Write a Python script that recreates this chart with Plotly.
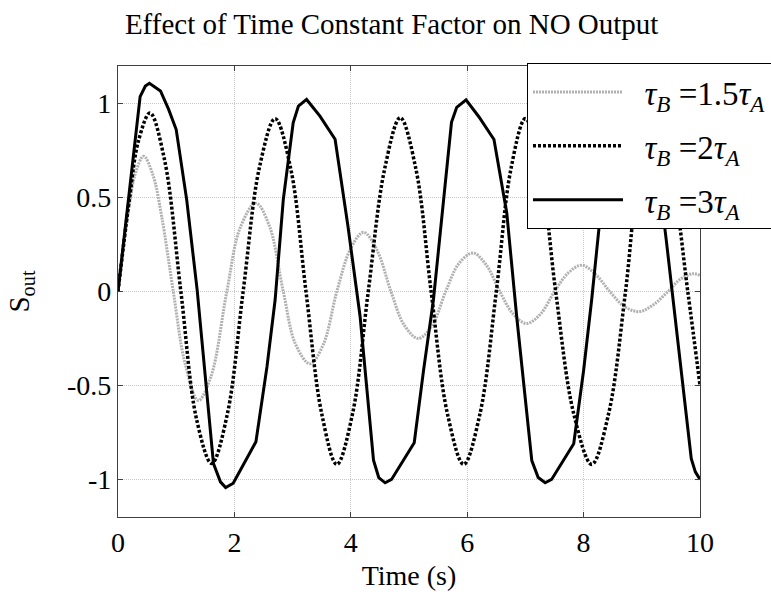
import plotly.graph_objects as go

# --- data ---
t_15 = [0, 0.1, 0.2, 0.3, 0.44, 0.6, 0.75, 0.95, 1.15, 1.38, 1.6, 1.87, 2.1, 2.37, 2.6, 2.84,
        3.05, 3.30, 3.53, 3.76, 4.0, 4.22, 4.45, 4.69, 4.92, 5.16, 5.4, 5.63, 5.86, 6.10, 6.33,
        6.56, 6.79, 7.02, 7.26, 7.5, 7.74, 7.97, 8.21, 8.45, 8.7, 8.96, 9.2, 9.45, 9.66, 9.88, 10.0]
s_15 = [0, 0.25, 0.47, 0.63, 0.72, 0.62, 0.40, 0.0, -0.38, -0.58, -0.45, 0.0, 0.34, 0.47, 0.35, 0.0,
        -0.28, -0.385, -0.28, 0.0, 0.23, 0.315, 0.22, 0.0, -0.18, -0.25, -0.18, 0.0, 0.15, 0.205, 0.14,
        0.0, -0.12, -0.17, -0.12, 0.0, 0.1, 0.14, 0.09, 0.0, -0.08, -0.107, -0.07, 0.0, 0.065, 0.095, 0.085]

t_2 = [0, 0.2, 0.35, 0.55, 0.8, 1.08, 1.35, 1.61, 1.88, 2.15, 2.43, 2.70, 2.97, 3.23, 3.5, 3.76,
       4.03, 4.30, 4.58, 4.85, 5.12, 5.38, 5.66, 5.94, 6.22, 6.50, 6.75, 7.0, 7.26, 7.52, 7.83,
       8.14, 8.43, 8.72, 8.96, 9.22, 9.5, 9.79, 10.0]
s_2 = [0, 0.5, 0.8, 0.95, 0.7, 0.0, -0.68, -0.915, -0.65, 0.0, 0.66, 0.92, 0.65, 0.0, -0.65, -0.92,
       -0.65, 0.0, 0.65, 0.925, 0.65, 0.0, -0.65, -0.92, -0.65, 0.0, 0.65, 0.92, 0.65, 0.0, -0.65,
       -0.92, -0.65, 0.0, 0.65, 0.92, 0.65, 0.0, -0.5]

t_3 = [0, 0.38, 0.47, 0.54, 0.73, 0.87, 1.0, 1.18, 1.36, 1.64, 1.76, 1.85, 1.98, 2.37, 2.56, 2.70,
       2.84, 3.01, 3.10, 3.24, 3.47, 3.73, 3.95, 4.16, 4.39, 4.48, 4.59, 4.70, 5.09, 5.25, 5.42,
       5.58, 5.73, 5.82, 5.98, 6.20, 6.46, 6.68, 6.85, 7.11, 7.22, 7.34, 7.45, 7.83, 8.0, 8.14,
       8.30, 8.45, 8.55, 8.72, 8.95, 9.21, 9.42, 9.85, 9.92, 10.0]
s_3 = [0, 1.037, 1.093, 1.108, 1.067, 0.969, 0.862, 0.489, 0.009, -0.915, -1.013, -1.043, -1.02, -0.80,
       -0.40, -0.044, 0.489, 0.898, 0.987, 1.022, 0.933, 0.81, 0.35, -0.133, -0.898, -0.99, -1.018,
       -1.0, -0.805, -0.42, -0.044, 0.45, 0.9, 0.98, 1.02, 0.93, 0.809, 0.418, -0.133, -0.9, -0.99,
       -1.018, -1.0, -0.81, -0.42, -0.04, 0.45, 0.9, 0.98, 1.02, 0.93, 0.81, 0.275, -0.89, -0.96, -1.0]

x_ticks = [0, 2, 4, 6, 8, 10]
y_ticks = [-1, -0.5, 0, 0.5, 1]
y_tick_text = ["-1", "-0.5", "0", "0.5", "1"]

SERIF = "Liberation Serif"
PAD = "&nbsp;&nbsp;"

fig = go.Figure()
fig.add_trace(go.Scatter(
    x=t_15, y=s_15, mode="lines", line_shape="spline",
    line=dict(color="#b0b0b0", width=3, dash="2px,1px"),
    name=PAD + "<i>τ</i><sub><i>B</i></sub> =1.5<i>τ</i><sub><i>A</i></sub>", legendgroup="a"))
fig.add_trace(go.Scatter(
    x=t_2, y=s_2, mode="lines", line_shape="spline",
    line=dict(color="#000000", width=3.5, dash="3px,2px"),
    name=PAD + "<i>τ</i><sub><i>B</i></sub> =2<i>τ</i><sub><i>A</i></sub>", legendgroup="b"))
fig.add_trace(go.Scatter(
    x=t_3, y=s_3, mode="lines",
    line=dict(color="#000000", width=3),
    name=PAD + "<i>τ</i><sub><i>B</i></sub> =3<i>τ</i><sub><i>A</i></sub>", legendgroup="c"))

axis_common = dict(
    showline=True, linecolor="#404040", linewidth=1.3, mirror="ticks",
    ticks="inside", ticklen=5, tickcolor="#404040", tickwidth=1,
    showgrid=True, gridcolor="#c8c8c8", gridwidth=1, griddash="1px,1px",
    zeroline=False, tickfont=dict(family=SERIF, size=28, color="black"),
)

fig.update_layout(
    width=771, height=594,
    margin=dict(l=118, r=71, t=66, b=77, autoexpand=False),
    paper_bgcolor="white", plot_bgcolor="white",
    title=dict(text="Effect of Time Constant Factor on NO Output",
               font=dict(family=SERIF, size=29, color="black"),
               x=0.508, xref="container", xanchor="center",
               y=1 - 24 / 594, yref="container", yanchor="middle"),
    xaxis=dict(range=[0, 10], tickvals=x_ticks, ticklabelstandoff=0,
               title=dict(text="Time (s)", font=dict(family=SERIF, size=28, color="black"), standoff=8),
               **axis_common),
    yaxis=dict(range=[-1.2, 1.2], tickvals=y_ticks, ticktext=y_tick_text, ticklabelstandoff=0,
               title=dict(text="S<sub>out</sub>", font=dict(family=SERIF, size=29, color="black"), standoff=28),
               **axis_common),
    showlegend=True,
    legend=dict(x=0.7027, y=1.0067, xanchor="left", yanchor="top",
                bgcolor="white", bordercolor="black", borderwidth=1,
                font=dict(family=SERIF, size=33, color="black"),
                itemwidth=90, tracegroupgap=8, traceorder="grouped"),
)

fig.write_html("out.html", config={"displayModeBar": False},
               post_script="document.body.style.margin='0';")
